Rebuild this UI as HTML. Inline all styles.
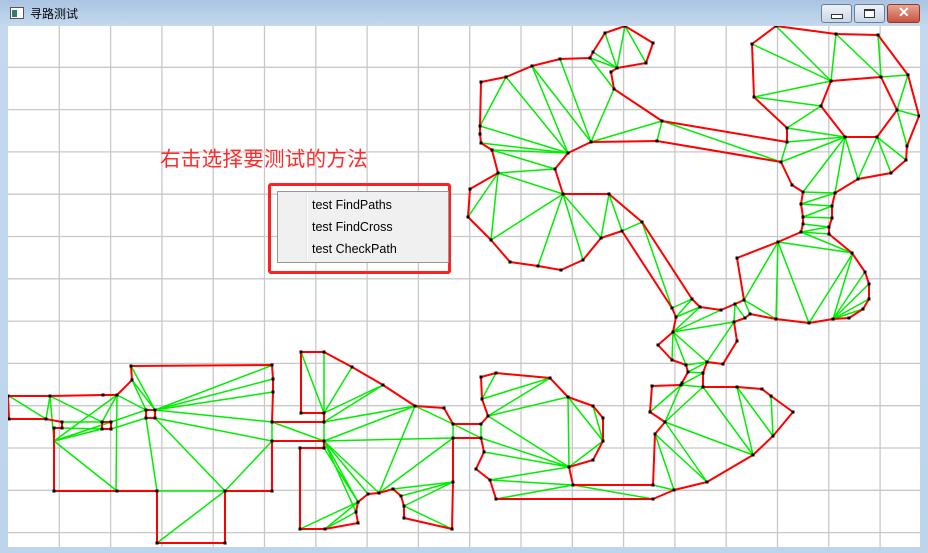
<!DOCTYPE html>
<html><head><meta charset="utf-8">
<style>
html,body{margin:0;padding:0;width:928px;height:553px;overflow:hidden;background:#bcd4ec;font-family:"Liberation Sans","Noto Sans CJK SC",sans-serif}
#win{position:absolute;left:0;top:0;width:928px;height:553px;background:linear-gradient(#a9c4e2,#c4d9ee 26px,#bcd4ec);}
#title{position:absolute;left:30px;top:5px;font-size:12px;color:#000}
.btn{position:absolute;top:4px;height:17px;border:1px solid #6b7f99;border-radius:3px;background:linear-gradient(#eef3f9,#c9d6e6)}
#canvas{position:absolute;left:8px;top:26px;width:912px;height:521px;background:#fff;overflow:hidden}
#hint{position:absolute;left:160px;top:142px;font-size:20.5px;color:#ff2a2a;font-family:"Liberation Sans","Noto Sans CJK SC",sans-serif;letter-spacing:0.3px}
#menuframe{position:absolute;left:268px;top:183px;width:177px;height:85px;border:3px solid #ff2020;border-radius:3px}
#menu{position:absolute;left:277px;top:191px;width:170px;height:70px;background:#f0f0f0;border:1px solid #979797}
#menu .sep{position:absolute;left:28px;top:2px;width:1px;height:66px;background:#e2e3e3;border-right:1px solid #fff}
#menu .it{position:absolute;left:34px;font-size:12.5px;color:#000}
</style></head><body>
<div id="win">
 <svg style="position:absolute;left:10px;top:7px" width="14" height="12"><rect x="0.5" y="0.5" width="13" height="11" fill="#fff" stroke="#555"/><rect x="2" y="3" width="5" height="7" fill="#3a7a6a"/></svg>
 <div id="title">寻路测试</div>
 <div class="btn" style="left:821px;width:29px"><div style="position:absolute;left:9px;top:9px;width:10px;height:3px;border:1px solid #333;background:#fff"></div></div>
 <div class="btn" style="left:854px;width:29px"><div style="position:absolute;left:9px;top:4px;width:9px;height:6px;border:1px solid #333;border-top-width:2px;background:#fff"></div></div>
 <div class="btn" style="left:887px;width:31px;background:linear-gradient(#e8a493,#c75540);border-color:#8a3a2a"><div style="position:absolute;left:10px;top:-1px;color:#fff;font-weight:bold;font-size:14px">✕</div></div>
 <div id="canvas">
  <svg id="svg" width="912" height="521" viewBox="8 26 912 521" style="position:absolute;left:0;top:0"></svg>
  <div id="hint" style="left:152px;top:116px">右击选择要测试的方法</div>
 </div>
 <div id="menuframe"></div>
 <div id="menu">
  <div class="sep"></div>
  <div class="it" style="top:6px">test FindPaths</div>
  <div class="it" style="top:28px">test FindCross</div>
  <div class="it" style="top:50px">test CheckPath</div>
 </div>
</div>
<script>
const gridX0=59.3, gridDX=51.3, gridY0=25, gridDY=42.3;
const redLines=[
[[781,162],[657,141],[591,142],[568,153],[555,169],[563,194],[609,194],[642,222],[692,299],[700,307],[721,310],[735,304],[744,300],[737,258],[778,242],[801,232],[803,224],[803,217],[801,204],[803,192],[792,185],[781,162]],
[[787,142],[662,121],[614,89],[611,72],[617,68],[646,63],[653,43],[625,26],[605,33],[593,52],[590,58],[560,59],[532,66],[506,77],[481,82],[480,126],[480,134],[481,143],[492,150],[498,173],[470,189],[468,217],[491,240],[510,262],[538,266],[561,270],[583,260],[601,238],[622,231],[672,308],[676,317],[673,332],[658,345],[672,360],[686,365],[688,372],[682,383],[681,385],[652,386],[650,412],[665,422],[655,434],[653,485],[573,485]],
[[787,142],[787,128],[754,97],[752,44],[776,26],[836,34],[878,35],[908,75],[919,116],[907,146],[906,160],[891,173],[858,179],[835,193],[832,206],[832,218],[829,227],[829,234],[852,253],[865,272],[869,284],[869,299],[863,309],[849,318],[833,319],[809,323],[776,319],[750,314],[745,318],[734,322],[737,341],[723,364],[707,362],[703,373],[703,387],[737,387],[762,389],[771,396],[793,412],[773,436],[753,455],[707,482],[674,490],[653,499],[496,499],[490,480],[476,469],[484,452],[481,438],[453,438],[453,482],[452,529],[404,518],[404,506],[401,496],[393,489],[379,493],[368,494],[358,502],[356,512],[358,523],[325,529],[300,529],[300,448],[324,448],[324,441],[272,441],[272,491],[225,491],[225,543],[157,543],[157,491],[117,491],[54,491],[54,428],[62,428],[62,422],[46,419],[9,419],[8,396],[50,396],[103,395],[117,395],[132,380],[131,366],[272,365],[273,379],[273,392],[272,422],[324,422],[324,413],[301,413],[301,352],[324,352],[352,367],[383,385],[415,406],[444,408],[453,424],[481,424],[488,416],[482,399],[481,377],[496,373],[550,378],[568,397],[593,406],[603,418],[603,441],[593,460],[569,467],[573,485]],
[[831,81],[881,77],[897,110],[877,137],[845,137],[821,106],[831,81]],
[[102,422],[111,422],[111,429],[102,429],[102,422]],
[[146,410],[155,410],[155,418],[146,418],[146,410]]
];
const greenEdges=[
[506,77,480,126],[506,77,568,153],[532,66,568,153],[532,66,591,142],[560,59,591,142],[590,58,614,89],[590,58,617,68],[593,52,617,68],[605,33,617,68],[625,26,617,68],[625,26,646,63],[614,89,591,142],[591,142,662,121],[662,121,657,141],[662,121,781,162],[480,126,568,153],[481,143,568,153],[492,150,568,153],[492,150,555,169],[498,173,555,169],[498,173,563,194],[498,173,491,240],[468,217,498,173],[491,240,563,194],[538,266,563,194],[583,260,563,194],[601,238,563,194],[601,238,609,194],[622,231,609,194],[622,231,642,222],[642,222,672,308],
[672,308,692,299],[676,317,692,299],[676,317,700,307],[673,332,700,307],[673,332,721,310],[673,332,734,322],[735,304,734,322],[735,304,745,318],[744,300,750,314],[744,300,776,319],[673,332,672,360],[673,332,686,365],[673,332,707,362],[734,322,707,362],[686,365,707,362],[688,372,707,362],[688,372,703,373],[681,385,703,373],[681,385,703,387],
[778,242,744,300],[778,242,776,319],[778,242,809,323],[778,242,853,253],[853,253,809,323],[853,253,833,319],[833,319,865,272],[833,319,869,284],[833,319,869,299],[833,319,863,309],
[803,192,835,193],[801,204,835,193],[801,204,832,206],[803,217,832,206],[803,217,832,218],[803,224,829,227],[801,232,829,234],[801,232,852,253],[801,232,829,227],
[776,26,831,81],[752,44,831,81],[754,97,831,81],[754,97,821,106],[836,34,831,81],[836,34,881,77],[878,35,881,77],[881,77,908,75],[908,75,897,110],[897,110,919,116],[897,110,907,146],[787,128,821,106],[787,128,845,137],[787,142,845,137],[781,162,845,137],[803,192,845,137],[835,193,845,137],[845,137,858,179],[877,137,858,179],[877,137,891,173],[877,137,906,160],[787,142,781,162],
[681,385,650,412],[681,385,665,422],[703,387,665,422],[665,422,753,455],[703,387,753,455],[737,387,753,455],[737,387,773,436],[771,396,773,436],[665,422,707,482],[655,434,707,482],[655,434,674,490],[653,485,674,490],
[496,373,482,399],[482,399,550,378],[488,416,550,378],[488,416,568,397],[488,416,569,467],[481,424,481,438],[481,438,569,467],[484,452,569,467],[490,480,569,467],[490,480,573,485],[496,499,573,485],[573,485,569,467],[573,485,653,499],[568,397,569,467],[568,397,603,441],[593,406,603,441],[569,467,603,441],[453,424,481,438],[453,424,453,438],
[301,352,324,413],[324,352,324,413],[352,367,324,413],[383,385,324,413],[383,385,324,422],[415,406,324,422],[415,406,324,441],[415,406,379,493],[415,406,453,424],[453,438,324,441],[453,438,379,493],[453,482,393,489],[453,482,401,496],[453,482,404,506],[452,529,404,506],[324,441,379,493],[324,441,368,494],[324,441,358,502],[324,441,356,512],[324,448,358,502],[300,529,358,502],[325,529,356,512],[325,529,358,502],[324,422,324,441],[272,422,324,441],[272,441,272,422],
[9,396,46,419],[50,396,46,419],[50,396,102,422],[50,396,54,441],[117,395,102,422],[117,395,116,491],[54,441,102,429],[54,441,111,422],[54,441,117,491],[132,380,155,410],[131,366,155,410],[155,410,273,365],[155,410,273,379],[155,410,273,392],[155,410,272,422],[155,418,272,441],[155,418,225,491],[146,418,157,491],[146,410,117,395],[111,422,146,410],[111,429,146,418],[62,428,102,429],[62,422,102,422],[225,491,272,441],[225,491,157,543],[157,491,225,491],[117,395,54,441],[132,380,146,410]
];
const NS='http://www.w3.org/2000/svg';
const svg=document.getElementById('svg');
function mk(t,a){const e=document.createElementNS(NS,t);for(const k in a)e.setAttribute(k,a[k]);svg.appendChild(e);return e;}
for(let x=gridX0;x<920;x+=gridDX){const l=mk('line',{x1:x,y1:26,x2:x,y2:547,stroke:'#c8c8c8','stroke-width':1.3});

}
for(let y=gridY0+gridDY;y<547;y+=gridDY){const l=mk('line',{x1:8,y1:y,x2:920,y2:y,stroke:'#c8c8c8','stroke-width':1.3});

}
greenEdges.forEach(g=>{const l=mk('line',{x1:g[0],y1:g[1],x2:g[2],y2:g[3],stroke:'#00ee00','stroke-width':1.5});

});
redLines.forEach(pl=>{const p=mk('polyline',{points:pl.map(q=>q.join(',')).join(' '),fill:'none',stroke:'#ff0000','stroke-width':2,'stroke-linejoin':'round'});

});
redLines.forEach(pl=>pl.forEach(q=>{const r=mk('rect',{x:q[0]-1.5,y:q[1]-1.5,width:3,height:3,fill:'#000'});

}));
</script>
</body></html>
